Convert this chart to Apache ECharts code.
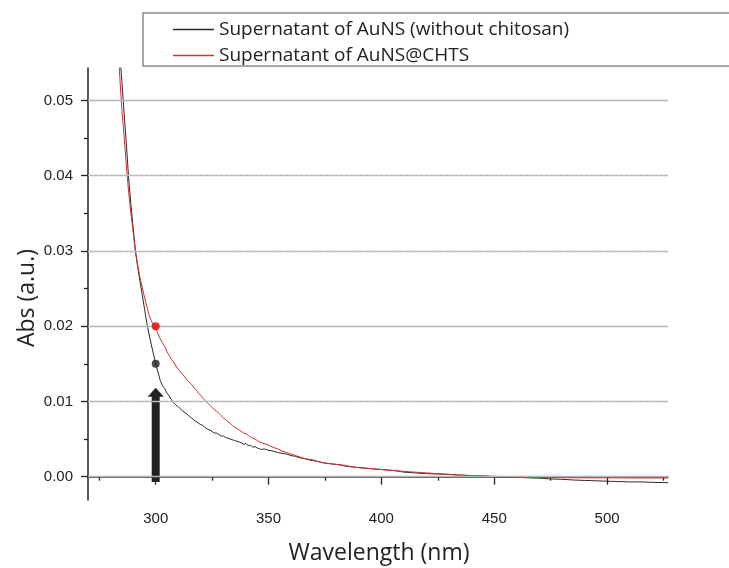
<!DOCTYPE html>
<html><head><meta charset="utf-8">
<script src="https://cdn.jsdelivr.net/npm/echarts@6.0.0/dist/echarts.min.js"></script>
<style>html,body{margin:0;padding:0;background:#fff}#c{width:729px;height:568px}</style>
</head><body><div id="c"></div>
<script>
const seriesNames = ['Supernatant of AuNS (without chitosan)', 'Supernatant of AuNS@CHTS'];
const xTitle = 'Wavelength (nm)';
const yTitle = 'Abs (a.u.)';

const blackWl = [280,282,283,284,285,286,287,288,289,290,291,292,293,294,295,296,297,298,299,300,
  301,302,303,304,305,306,307,308,309,310,311,312,313,314,315,316,317,318,319,320,
  321,322,323,324,325,326,327,328,329,330,331,332,333,334,335,336,337,338,339,340,
  341,342,343,344,345,346,347,348,350,352,354,356,358,360,362,364,366,368,370,372,
  375,378,381,384,387,390,394,398,402,406,410,415,420,425,430,435,440,445,450,455,
  460,465,470,475,480,485,490,495,500,505,510,515,520,527];
const blackAbs = [0.0760,0.0650,0.0605,0.0565,0.0526,0.0483,0.0442,0.0397,0.0362,0.0331,0.0300,0.0279,0.0260,0.0242,0.0224,0.0205,0.0190,0.0176,0.0163,0.0150,
  0.0139,0.0128,0.0121,0.0117,0.0111,0.0107,0.0102,0.0098,0.0095,0.0093,0.0090,0.0087,0.0085,0.0083,0.0080,0.0078,0.0075,0.0073,0.0071,0.0069,
  0.0068,0.0065,0.0063,0.0062,0.0060,0.0058,0.0058,0.0056,0.0054,0.0054,0.0052,0.0051,0.0050,0.0049,0.0048,0.0047,0.0046,0.0045,0.0043,0.0044,
  0.0041,0.0042,0.0039,0.0040,0.0038,0.0037,0.0036,0.0037,0.0035,0.0034,0.0032,0.0031,0.0030,0.0028,0.0027,0.0025,0.0024,0.0023,0.0022,0.0020,
  0.0018,0.0017,0.0016,0.0014,0.0013,0.0012,0.0011,0.0010,0.0009,0.0008,0.0006,0.0005,0.0004,0.00035,0.0003,0.0002,0.00015,0.0001,0.0000,-0.00005,
  -0.0001,-0.00015,-0.0002,-0.0003,-0.00035,-0.00044,-0.0005,-0.00055,-0.0006,-0.00065,-0.0007,-0.0007,-0.00075,-0.0008];

const redWl = [280,282,283,284,285,286,287,288,289,290,291,292,293,294,295,296,297,298,299,300,
  301,302,303,304,305,306,307,308,309,310,311,312,313,314,315,316,317,318,319,320,
  321,322,323,324,325,326,327,328,329,330,331,332,333,334,335,336,337,338,339,340,
  341,342,343,344,345,346,347,348,350,352,354,356,358,360,362,364,366,368,370,372,
  375,378,381,384,387,390,394,398,402,406,410,415,420,425,430,435,440,445,450,455,
  460,465,470,480,490,500,510,520,527];
const redAbs = [0.0760,0.0640,0.0588,0.0535,0.0488,0.0452,0.0413,0.0378,0.0350,0.0325,0.0300,0.0282,0.0265,0.0252,0.0239,0.0227,0.0215,0.0207,0.0202,0.0197,
  0.0190,0.0183,0.0178,0.0173,0.0166,0.0161,0.0156,0.0152,0.0147,0.0143,0.0139,0.0136,0.0132,0.0128,0.0125,0.0122,0.0118,0.0115,0.0111,0.0108,
  0.0104,0.0101,0.0098,0.0095,0.0092,0.0089,0.0087,0.0084,0.0081,0.0078,0.0076,0.0073,0.0071,0.0068,0.0066,0.0064,0.0062,0.0060,0.0058,0.0057,
  0.0055,0.0053,0.0051,0.0050,0.0048,0.0046,0.0045,0.0044,0.0042,0.0039,0.0037,0.0034,0.0032,0.0030,0.0028,0.0026,0.0024,0.0022,0.0021,0.0020,
  0.0018,0.0017,0.0016,0.0015,0.0013,0.0012,0.0011,0.0010,0.0009,0.0008,0.0007,0.0006,0.0005,0.0004,0.0003,0.0002,0.00015,0.0001,0.00005,0.0,
  -0.00005,-0.0001,-0.00012,-0.00013,-0.00015,-0.00015,-0.00017,-0.00017,-0.00018];

const markerWl = [300];
const markerAbsBlack = [0.015];
const markerAbsRed = [0.020];
const arrowWl = [300];
const arrowFrom = [-0.0007];
const arrowTo = [0.0118];

const xMajorTicks = [300, 350, 400, 450, 500];
const xMinorTicks = [275, 325, 375, 425, 475, 525];
const yMajorTicks = [0, 0.01, 0.02, 0.03, 0.04, 0.05];
const yMinorTicks = [0.005, 0.015, 0.025, 0.035, 0.045];

const zip = (a, b) => a.map((v, i) => [v, b[i]]);
const tickFont = {fontFamily: '"Liberation Sans", Arial, sans-serif', fontSize: 15, color: '#222'};
const axisLineStyle = {color: '#222', width: 1.5};
const colors = ['#2a2a2a', '#d03030'];

const chart = echarts.init(document.getElementById('c'), null, {renderer: 'canvas'});
chart.setOption({
  animation: false,
  backgroundColor: '#fff',
  grid: {left: 88, right: 61, top: 68, bottom: 68, containLabel: false},
  legend: {
    data: seriesNames.map((n, i) => ({name: n, icon: 'rect', itemStyle: {color: colors[i]}})),
    orient: 'vertical', left: 168, top: 15,
    itemWidth: 41, itemHeight: 1.5, itemGap: 7,
    textStyle: {fontFamily: '"Open Sans", sans-serif', fontSize: 19, color: '#222'},
    selectedMode: false
  },
  xAxis: [
    {type: 'value', min: 270, max: 527, position: 'bottom',
     axisLine: {show: true, lineStyle: axisLineStyle},
     axisTick: {show: true, length: 8, customValues: xMajorTicks, lineStyle: {color: '#222', width: 1.3}},
     axisLabel: {show: true, customValues: xMajorTicks, margin: 11, ...tickFont},
     splitLine: {show: false}},
    {type: 'value', min: 270, max: 527, position: 'bottom',
     axisLine: {show: false},
     axisTick: {show: true, length: 4, customValues: xMinorTicks, lineStyle: {color: '#222', width: 1.3}},
     axisLabel: {show: false}, splitLine: {show: false}}
  ],
  yAxis: [
    {type: 'value', min: -0.0031, max: 0.0543, position: 'left',
     axisLine: {show: true, lineStyle: axisLineStyle},
     axisTick: {show: true, length: 7, customValues: yMajorTicks, lineStyle: {color: '#222', width: 1.3}},
     axisLabel: {show: true, customValues: yMajorTicks, margin: 15, formatter: v => v.toFixed(2), ...tickFont},
     splitLine: {show: false}},
    {type: 'value', min: -0.0031, max: 0.0543, position: 'left',
     axisLine: {show: false},
     axisTick: {show: true, length: 4, customValues: yMinorTicks, lineStyle: {color: '#222', width: 1.3}},
     axisLabel: {show: false}, splitLine: {show: false}}
  ],
  graphic: [
    {type: 'rect', shape: {x: 143, y: 13, width: 620, height: 53},
     style: {fill: 'none', stroke: '#8a8a8a', lineWidth: 1.5}, z: 10, silent: true},
    {type: 'text', x: 379, y: 553,
     style: {text: xTitle, font: '23px "Open Sans", sans-serif', fill: '#222', align: 'center', verticalAlign: 'middle'}},
    {type: 'text', x: 27, y: 298, rotation: Math.PI / 2,
     style: {text: yTitle, font: '23px "Open Sans", sans-serif', fill: '#222', align: 'center', verticalAlign: 'middle'}}
  ],
  series: [
    {name: 'grid', type: 'line', data: [], z: 1, silent: true,
     markLine: {silent: true, symbol: ['none', 'none'], label: {show: false}, animation: false,
       data: [
         ...yMajorTicks.map(v => ({yAxis: v, lineStyle: {color: '#b4b4b4', width: 1.3, type: 'solid'}})),
         ...yMinorTicks.map(v => ({yAxis: v, lineStyle: {color: '#c8c8c8', width: 1, type: [2, 3]}}))
       ]}},
    {name: seriesNames[0], type: 'line', data: zip(blackWl, blackAbs), symbol: 'none', showSymbol: false,
     lineStyle: {color: colors[0], width: 1}, itemStyle: {color: colors[0]}, z: 3, clip: true},
    {name: seriesNames[1], type: 'line', data: zip(redWl, redAbs), symbol: 'none', showSymbol: false,
     lineStyle: {color: colors[1], width: 1}, itemStyle: {color: colors[1]}, z: 3, clip: true},
    {name: 'markBlack', type: 'scatter', data: zip(markerWl, markerAbsBlack), symbolSize: 8,
     itemStyle: {color: '#222'}, z: 5, silent: true},
    {name: 'markRed', type: 'scatter', data: zip(markerWl, markerAbsRed), symbolSize: 8,
     itemStyle: {color: '#e00000'}, z: 5, silent: true},
    {name: 'arrow', type: 'custom', silent: true, z: 4,
     data: arrowWl.map((w, i) => [w, arrowFrom[i], arrowTo[i]]),
     encode: {x: 0, y: [1, 2]},
     renderItem: function (params, api) {
       const b = api.coord([api.value(0), api.value(1)]);
       const t = api.coord([api.value(0), api.value(2)]);
       const sw = 4, hw = 8, hh = 9;
       return {type: 'polygon', shape: {points: [
         [b[0] - sw, b[1]], [b[0] - sw, t[1] + hh], [b[0] - hw, t[1] + hh], [b[0], t[1]],
         [b[0] + hw, t[1] + hh], [b[0] + sw, t[1] + hh], [b[0] + sw, b[1]]]},
         style: {fill: '#222'}};
     }}
  ]
});
</script></body></html>
